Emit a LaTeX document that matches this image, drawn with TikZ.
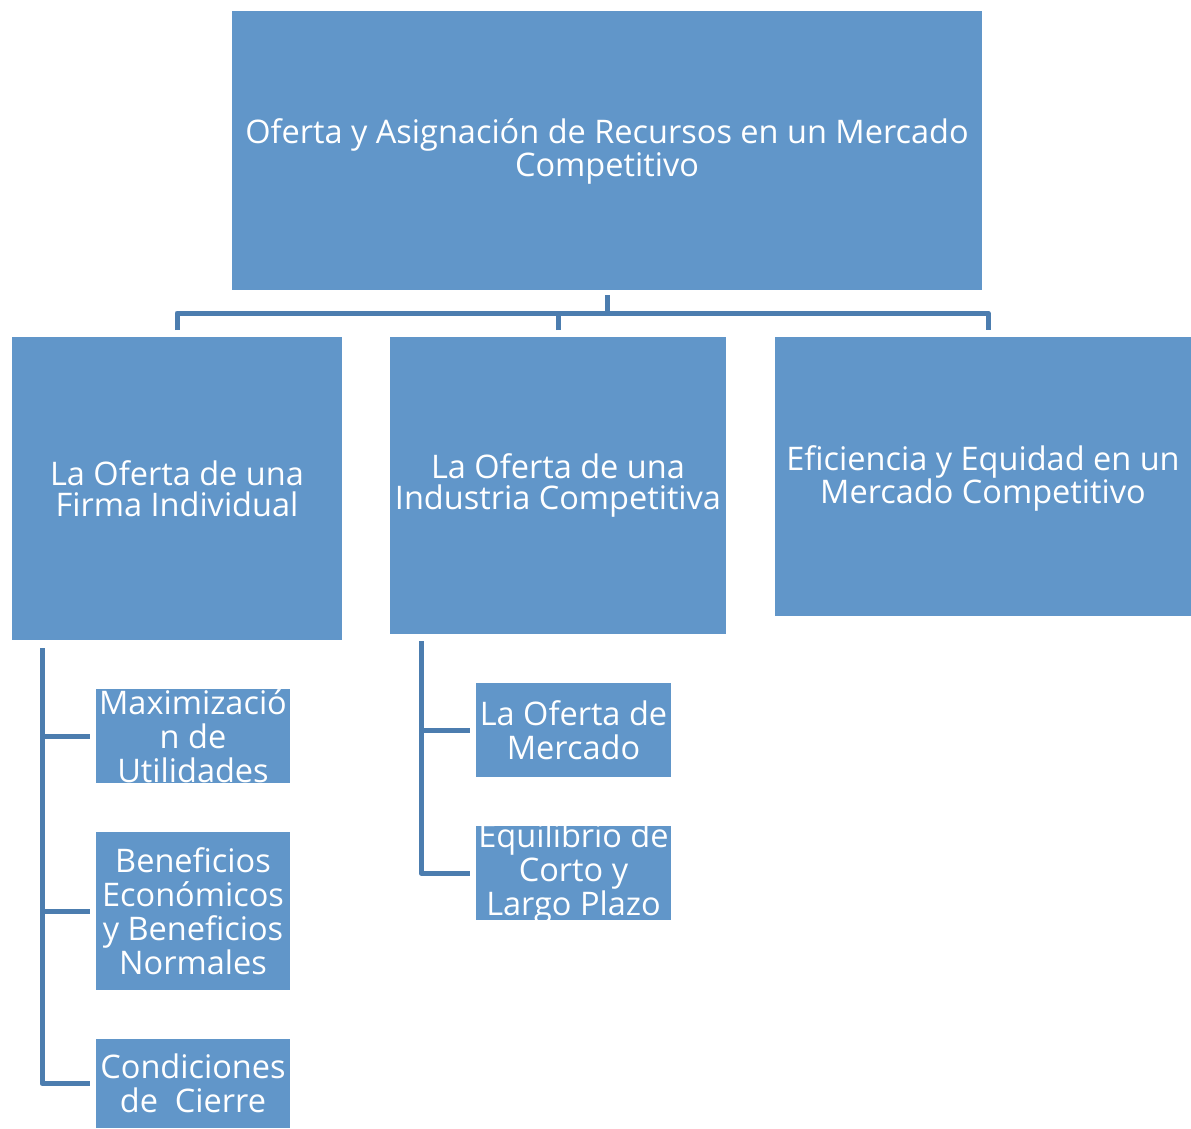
\documentclass[tikz,border=0pt]{standalone}
\usepackage{fontspec}
\setmainfont{Open Sans}
\definecolor{boxblue}{HTML}{6196C9}
\definecolor{lineblue}{HTML}{4C7DAF}
\begin{document}
\begin{tikzpicture}[x=1pt,y=-1pt,
  box/.style={fill=boxblue, draw=none, inner sep=0pt, outer sep=0pt, anchor=north west},
  txt/.style={text=white, align=center, font=\fontsize{32.5}{31}\selectfont, inner sep=0pt},
  ctxt/.style={text=white, align=center, font=\fontsize{32.5}{34}\selectfont, inner sep=0pt},
  conn/.style={draw=lineblue, line width=5pt, line join=round}]
\useasboundingbox (0,0) rectangle (1191,1128);
% boxes
\node[box, minimum width=750pt, minimum height=279pt] (top) at (232,11) {};
\node[box, minimum width=330pt, minimum height=303pt] (A) at (12,337) {};
\node[box, minimum width=336pt, minimum height=297pt] (B) at (390,337) {};
\node[box, minimum width=416pt, minimum height=279pt] (C) at (775,337) {};
\node[box, minimum width=194pt, minimum height=94pt] (maxi) at (96,689) {};
\node[box, minimum width=194pt, minimum height=158pt] (bene) at (96,832) {};
\node[box, minimum width=194pt, minimum height=89pt] (cond) at (96,1039) {};
\node[box, minimum width=195pt, minimum height=94pt] (merc) at (476,683) {};
\node[box, minimum width=195pt, minimum height=94pt] (equi) at (476,826) {};
% texts
\node[txt] (ttop) at ([yshift=-1pt]top.center) {Oferta y Asignación de Recursos en un Mercado\\Competitivo};
\node[txt] (tA) at (A.center) {La Oferta de una\\Firma Individual};
\node[txt] (tB) at (B.center) {La Oferta de una\\Industria Competitiva};
\node[txt] (tC) at ([yshift=-2pt]C.center) {Eficiencia y Equidad en un\\Mercado Competitivo};
\node[ctxt] (tmaxi) at (maxi.center) {Maximizació\\n de\\Utilidades};
\node[ctxt] (tbene) at (bene.center) {Beneficios\\Económicos\\y Beneficios\\Normales};
\node[ctxt] (tcond) at (cond.center) {Condiciones\\de~ Cierre};
\node[ctxt] (tmerc) at (merc.center) {La Oferta de\\Mercado};
\node[ctxt] (tequi) at (equi.center) {Equilibrio de\\Corto y\\Largo Plazo};
% top connectors
\coordinate (j0) at ([yshift=-23pt]top.south);
\draw[conn] ([yshift=-5pt]top.south) -- (j0);
\draw[conn] ([yshift=7pt]A.north) -- ++(0,-17) -| ([xshift=5pt,yshift=7pt]C.north);
\draw[conn] ([yshift=7pt]B.north) -- ++(0,-17);
% left children connectors
\coordinate (la) at ([xshift=30pt,yshift=-8pt]A.south west);
\draw[conn] (la) |- ([xshift=-6pt]cond.west);
\draw[conn] (la |- maxi.west) -- ([xshift=-6pt]maxi.west);
\draw[conn] (la |- bene.west) -- ([xshift=-6pt]bene.west);
% middle children connectors
\coordinate (lb) at ([xshift=31pt,yshift=-7pt]B.south west);
\draw[conn] (lb) |- ([xshift=-6pt]equi.west);
\draw[conn] (lb |- merc.west) -- ([xshift=-6pt]merc.west);
\end{tikzpicture}
\end{document}
